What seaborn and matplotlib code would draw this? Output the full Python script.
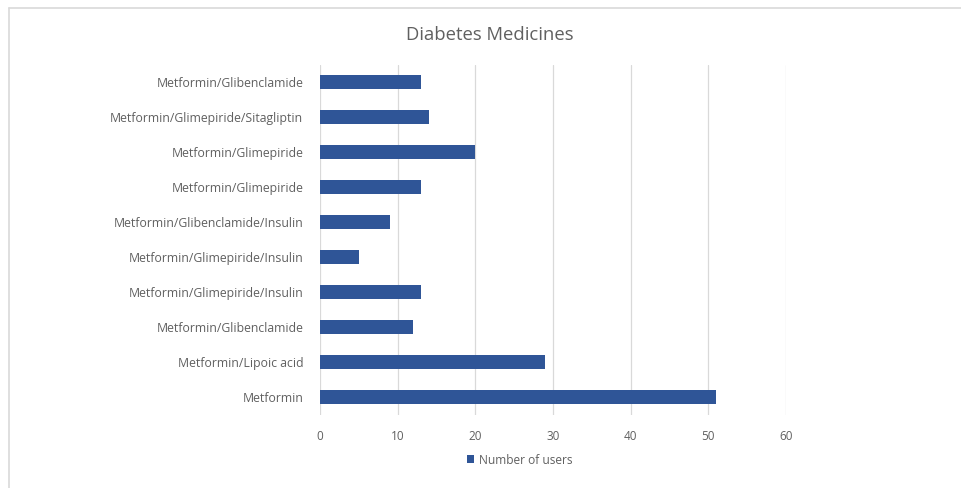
import matplotlib
matplotlib.use("Agg")
import matplotlib.pyplot as plt
from matplotlib.lines import Line2D
from matplotlib.patches import Patch
import seaborn as sns
import pandas as pd

medicines = [
    "Metformin/Glibenclamide",
    "Metformin/Glimepiride/Sitagliptin",
    "Metformin/Glimepiride",
    "Metformin/Glimepiride",
    "Metformin/Glibenclamide/Insulin",
    "Metformin/Glimepiride/Insulin",
    "Metformin/Glimepiride/Insulin",
    "Metformin/Glibenclamide",
    "Metformin/Lipoic acid",
    "Metformin",
]
users = [13, 14, 20, 13, 9, 5, 13, 12, 29, 51]
x_ticks = [0, 10, 20, 30, 40, 50, 60]

sns.set_theme(style="white")
plt.rcParams["font.family"] = ["Open Sans", "DejaVu Sans"]

text_grey = "#606060"
bar_blue = "#2F5597"

df = pd.DataFrame({"slot": list(range(len(medicines))), "users": users})

fig = plt.figure(figsize=(9.62, 4.88), dpi=100)
ax = fig.add_axes([320 / 962, 1 - 414.5 / 488, (786 - 320) / 962, 350 / 488])

sns.barplot(data=df, x="users", y="slot", orient="y", color=bar_blue,
            width=0.4, saturation=1, ax=ax, edgecolor="none")

ax.set_xlim(0, 60)
ax.set_xticks(x_ticks)
ax.set_xticklabels([str(t) for t in x_ticks], color=text_grey, fontsize=8.5)
ax.set_yticks(range(len(medicines)))
ax.set_yticklabels(medicines, color=text_grey, fontsize=8.8)
ax.set_xlabel("")
ax.set_ylabel("")
ax.tick_params(axis="both", length=0)
ax.tick_params(axis="x", pad=11)
ax.tick_params(axis="y", pad=12)
ax.xaxis.grid(True, color="#D9D9D9", linewidth=0.9)
ax.set_axisbelow(True)
for s in ax.spines.values():
    s.set_visible(False)

fig.text(490 / 962, 1 - 35 / 488, "Diabetes Medicines", ha="center", va="center",
         fontsize=13.3, color=text_grey)

handle = Patch(facecolor=bar_blue, edgecolor="none")
fig.legend([handle], ["Number of users"], loc="center",
           bbox_to_anchor=(520 / 962, 1 - 460 / 488), frameon=False,
           fontsize=8.6, labelcolor=text_grey, handlelength=0.6, handleheight=0.6,
           handletextpad=0.4)

# chart area frame (top and left edges)
fig.add_artist(Line2D([9 / 962, 1], [1 - 8 / 488, 1 - 8 / 488], color="#D9D9D9",
                      linewidth=1.2, transform=fig.transFigure))
fig.add_artist(Line2D([9 / 962, 9 / 962], [0, 1 - 8 / 488], color="#D9D9D9",
                      linewidth=1.2, transform=fig.transFigure))

fig.savefig("out.png", dpi=100, facecolor="white")
